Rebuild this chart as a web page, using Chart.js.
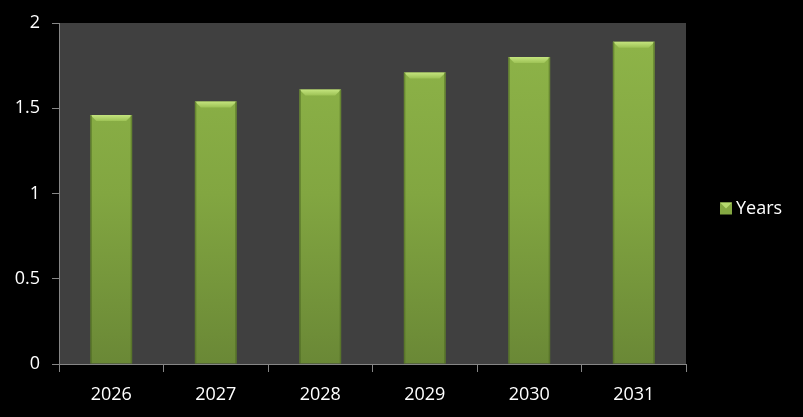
<!DOCTYPE html>
<html>
<head>
<meta charset="utf-8">
<style>
  body { margin: 0; background: #000; }
  #wrap { width: 803px; height: 417px; }
</style>
</head>
<body>
<div id="wrap">
  <canvas id="years"></canvas>
</div>

<script src="https://cdn.jsdelivr.net/npm/chart.js"></script>

<script>
  const categories = ['2026', '2027', '2028', '2029', '2030', '2031'];
  const seriesName = 'Years';
  const values = [1.46, 1.54, 1.61, 1.71, 1.80, 1.89];

  const axisGray = '#868686';
  const fontFam = '"Open Sans", "Liberation Sans", sans-serif';

  // dark grey plot area behind the bars
  const plotBg = {
    id: 'plotBg',
    beforeDraw(chart) {
      const a = chart.chartArea;
      const c = chart.ctx;
      c.save();
      c.fillStyle = '#404040';
      c.fillRect(a.left, a.top, a.right - a.left, a.bottom - a.top);
      c.restore();
    }
  };

  // bevelled top edge on every bar
  const bevel = {
    id: 'bevel',
    afterDatasetsDraw(chart) {
      const c = chart.ctx;
      chart.getDatasetMeta(0).data.forEach(bar => {
        const l = bar.x - bar.width / 2, r = bar.x + bar.width / 2;
        const t = bar.y, b = bar.base, d = 6;
        c.save();
        const g = c.createLinearGradient(0, t, 0, t + d);
        g.addColorStop(0, '#c4e47e');
        g.addColorStop(1, '#9dc255');
        c.fillStyle = g;
        c.beginPath();
        c.moveTo(l, t); c.lineTo(r, t); c.lineTo(r - d, t + d); c.lineTo(l + d, t + d);
        c.closePath(); c.fill();
        c.fillStyle = 'rgba(70,95,30,0.5)';
        c.fillRect(l, t, 1.5, b - t);
        c.fillRect(r - 1.5, t, 1.5, b - t);
        c.restore();
      });
    }
  };

  // single-entry legend to the right of the plot
  const sideLegend = {
    id: 'sideLegend',
    afterDraw(chart) {
      const c = chart.ctx;
      const x = chart.chartArea.right + 34;
      const y = chart.height / 2;
      c.save();
      c.fillStyle = '#84a842';
      c.fillRect(x, y - 6, 12, 12);
      c.fillStyle = '#b5d96e';
      c.beginPath();
      c.moveTo(x, y - 6); c.lineTo(x + 12, y - 6); c.lineTo(x + 6, y); c.closePath();
      c.fill();
      c.fillStyle = '#ffffff';
      c.font = '18px ' + fontFam;
      c.textBaseline = 'middle';
      c.fillText(seriesName, x + 16, y);
      c.restore();
    }
  };

  const ctx = document.getElementById('years');

  new Chart(ctx, {
    type: 'bar',
    data: {
      labels: categories,
      datasets: [{
        label: seriesName,
        data: values,
        backgroundColor: (context) => {
          const chart = context.chart;
          const area = chart.chartArea;
          if (!area) return '#8cb047';
          const g = chart.ctx.createLinearGradient(0, area.top, 0, area.bottom);
          g.addColorStop(0, '#8fb549');
          g.addColorStop(0.5, '#82a641');
          g.addColorStop(1, '#6a8836');
          return g;
        },
        borderWidth: 0,
        barPercentage: 0.4,
        categoryPercentage: 1
      }]
    },
    options: {
      responsive: true,
      maintainAspectRatio: false,
      animation: false,
      layout: { padding: { top: 23, right: 117, left: 0, bottom: 0 } },
      plugins: {
        tooltip: { enabled: false },
        legend: { display: false }
      },
      scales: {
        x: {
          grid: {
            offset: true,
            drawOnChartArea: false,
            drawTicks: true,
            tickLength: 8,
            color: axisGray
          },
          border: { color: axisGray, width: 1 },
          ticks: {
            color: '#ffffff',
            font: { family: fontFam, size: 18 },
            padding: 12
          },
          afterFit: (s) => { s.height = 53; }
        },
        y: {
          min: 0,
          max: 2,
          grid: {
            drawOnChartArea: false,
            drawTicks: true,
            tickLength: 7,
            color: axisGray
          },
          border: { color: axisGray, width: 1 },
          ticks: {
            stepSize: 0.5,
            color: '#ffffff',
            font: { family: fontFam, size: 18 },
            padding: 12,
            callback: (v) => String(v)
          },
          afterFit: (s) => { s.width = 59; }
        }
      }
    },
    plugins: [plotBg, bevel, sideLegend]
  });
</script>
</body>
</html>
